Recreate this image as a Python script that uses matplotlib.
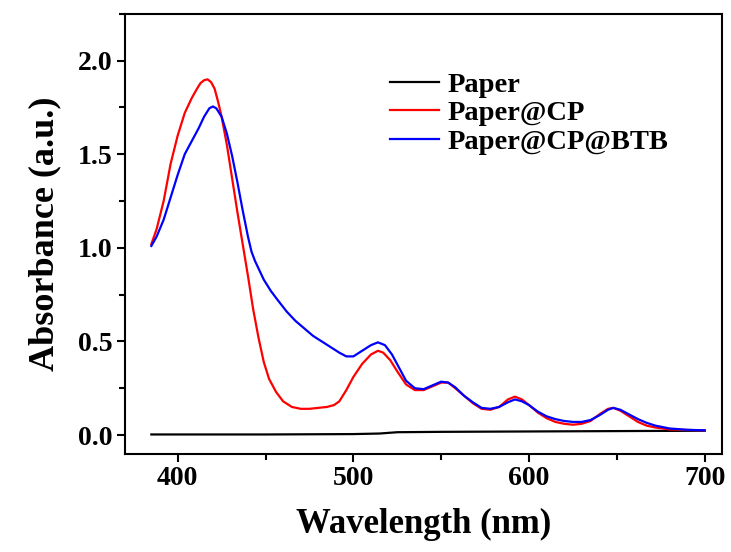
import matplotlib
matplotlib.use('Agg')
import matplotlib.pyplot as plt
from matplotlib.ticker import MultipleLocator

# Paper@CP (red)
wl_cp = [385, 388, 392, 396, 400, 404, 408, 411, 413, 415, 417, 419, 421, 423, 425, 428, 431, 434,
         437, 440, 443, 446, 449, 452, 456, 460, 465, 470, 475, 480, 485, 489, 492, 496,
         500, 505, 510, 514, 517, 521, 525, 530, 535, 540, 545, 550, 554, 558, 563, 568,
         573, 578, 583, 588, 592, 596, 600, 605, 610, 615, 620, 625, 630, 635, 640, 645,
         648, 652, 657, 662, 667, 672, 680, 690, 700]
abs_cp = [1.02, 1.10, 1.25, 1.45, 1.60, 1.72, 1.80, 1.85, 1.88, 1.895, 1.90, 1.885, 1.85, 1.78,
          1.70, 1.55, 1.37, 1.19, 1.02, 0.85, 0.67, 0.52, 0.39, 0.30, 0.23, 0.18, 0.15, 0.14,
          0.14, 0.145, 0.15, 0.16, 0.18, 0.24, 0.31, 0.38, 0.43, 0.45, 0.44, 0.40, 0.34, 0.27,
          0.24, 0.24, 0.26, 0.28, 0.28, 0.25, 0.21, 0.17, 0.14, 0.135, 0.15, 0.19, 0.205,
          0.19, 0.16, 0.12, 0.09, 0.07, 0.06, 0.055, 0.06, 0.075, 0.11, 0.14, 0.145, 0.13,
          0.10, 0.07, 0.05, 0.04, 0.03, 0.027, 0.025]

# Paper@CP@BTB (blue)
wl_btb = [385, 388, 392, 396, 400, 404, 408, 412, 415, 418, 420, 422, 425, 428, 431, 434,
          437, 440, 442, 444, 446, 449, 453, 457, 462, 467, 472, 477, 482, 487, 492, 496,
          500, 505, 510, 514, 518, 522, 526, 530, 535, 540, 545, 550, 554, 558, 563, 568,
          573, 578, 583, 588, 592, 596, 600, 605, 610, 615, 620, 625, 630, 635, 640, 645,
          648, 652, 657, 662, 667, 672, 680, 690, 700]
abs_btb = [1.01, 1.06, 1.15, 1.27, 1.39, 1.50, 1.57, 1.64, 1.70, 1.745, 1.755, 1.745, 1.70,
           1.61, 1.49, 1.35, 1.20, 1.06, 0.98, 0.93, 0.89, 0.83, 0.77, 0.72, 0.66, 0.61,
           0.57, 0.53, 0.50, 0.47, 0.44, 0.42, 0.42, 0.45, 0.48, 0.495, 0.48, 0.43, 0.36,
           0.29, 0.25, 0.245, 0.265, 0.285, 0.28, 0.255, 0.21, 0.175, 0.145, 0.14, 0.15,
           0.175, 0.19, 0.18, 0.16, 0.125, 0.10, 0.085, 0.075, 0.07, 0.07, 0.08, 0.105,
           0.135, 0.145, 0.135, 0.11, 0.085, 0.065, 0.05, 0.035, 0.028, 0.025]

# Paper (black)
wl_paper = [385, 450, 500, 515, 525, 550, 600, 650, 700]
abs_paper = [0.003, 0.003, 0.005, 0.008, 0.015, 0.017, 0.019, 0.021, 0.023]

plt.rcParams['font.family'] = ['Liberation Serif', 'DejaVu Serif']
plt.rcParams['font.weight'] = 'bold'

fig = plt.figure(figsize=(7.31, 5.52), dpi=100)
ax = fig.add_axes([0.171, 0.178, 0.817, 0.797])

ax.plot(wl_paper, abs_paper, color='black', lw=1.6, label='Paper')
ax.plot(wl_cp, abs_cp, color='#ff0000', lw=1.6, label='Paper@CP')
ax.plot(wl_btb, abs_btb, color='#0000ff', lw=1.6, label='Paper@CP@BTB')

ax.set_xlim(370, 710)
ax.set_ylim(-0.1, 2.25)
ax.xaxis.set_major_locator(MultipleLocator(100))
ax.xaxis.set_minor_locator(MultipleLocator(50))
ax.yaxis.set_major_locator(MultipleLocator(0.5))
ax.yaxis.set_minor_locator(MultipleLocator(0.25))
ax.yaxis.set_major_formatter(plt.FormatStrFormatter('%.1f'))

for s in ax.spines.values():
    s.set_linewidth(1.5)
ax.tick_params(which='major', direction='out', length=6, width=1.5, labelsize=20, pad=3)
ax.tick_params(which='minor', direction='out', length=4, width=1.5)
for lab in ax.get_xticklabels() + ax.get_yticklabels():
    lab.set_fontweight('bold')

ax.set_xlabel('Wavelength (nm)', fontsize=25, fontweight='bold', labelpad=12)
ax.set_ylabel('Absorbance (a.u.)', fontsize=26, fontweight='bold', labelpad=12)

ax.legend(loc='upper left', bbox_to_anchor=(0.425, 0.893), frameon=False,
          prop={'size': 20.5, 'weight': 'bold'}, handlelength=1.7, handletextpad=0.3,
          labelspacing=0.08, borderaxespad=0)

fig.savefig('out.png', dpi=100)
